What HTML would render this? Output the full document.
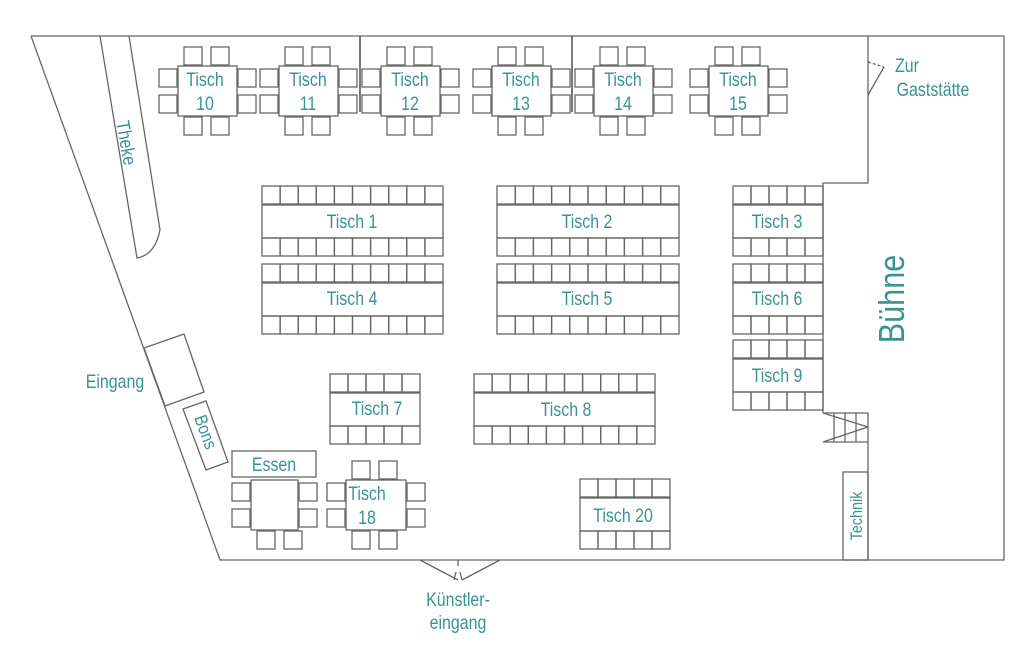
<!DOCTYPE html>
<html><head><meta charset="utf-8"><style>
html,body{margin:0;padding:0;background:#fff;}
svg{display:block}
text{font-family:"Liberation Sans Narrow","Liberation Sans",sans-serif;fill:#3a9393;}
.n text{transform-box:fill-box;transform-origin:center;transform:scaleX(.84);}
</style></head><body>
<svg id="s" width="1024" height="656" viewBox="0 0 1024 656" xmlns="http://www.w3.org/2000/svg">
<g id="g" fill="none" stroke="#666" stroke-width="1.3">
<polyline points="31,36 1004,36 1004,560 220,560 31,36"/>
<polyline points="868,36 868,183 823,183 823,413"/>
<polyline points="823,413 868,413 868,560"/>
<line x1="823" y1="442" x2="868" y2="442"/>
<line x1="823" y1="442" x2="868" y2="427"/><line x1="823" y1="413" x2="868" y2="427"/>
<line x1="834" y1="413" x2="834" y2="442"/><line x1="845" y1="413" x2="845" y2="442"/><line x1="856" y1="413" x2="856" y2="442"/>
<rect x="843" y="472" width="25" height="88"/>
<line x1="360" y1="36" x2="360" y2="112" stroke="#333"/>
<line x1="572" y1="36" x2="572" y2="112" stroke="#333"/>
<path d="M100,36 L137,258 Q155,255 160,230 L129,36"/>
<polygon points="144,348 184,334 204,392 165,406"/>
<polygon points="183,409 206,401 228,462 206,470"/>
<rect x="232" y="451" width="84" height="26"/>
<line x1="868" y1="62" x2="884" y2="67" stroke-dasharray="3,2"/>
<line x1="868" y1="95" x2="884" y2="67"/>
<polyline points="420,560 458,580"/><polyline points="500,560 462,580"/>
<line x1="458" y1="560" x2="458" y2="566"/>
<line x1="456" y1="572" x2="454" y2="580"/><line x1="460" y1="572" x2="462" y2="580"/>
</g>
<g font-size="19" text-anchor="middle" class="n">
<text x="205" y="86">Tisch</text><text x="205" y="110">10</text>
<text x="308" y="86">Tisch</text><text x="308" y="110">11</text>
<text x="410" y="86">Tisch</text><text x="410" y="110">12</text>
<text x="521" y="86">Tisch</text><text x="521" y="110">13</text>
<text x="623" y="86">Tisch</text><text x="623" y="110">14</text>
<text x="738" y="86">Tisch</text><text x="738" y="110">15</text>
<text x="352" y="228">Tisch 1</text>
<text x="587" y="228">Tisch 2</text>
<text x="777" y="228">Tisch 3</text>
<text x="352" y="305">Tisch 4</text>
<text x="587" y="305">Tisch 5</text>
<text x="777" y="305">Tisch 6</text>
<text x="777" y="382">Tisch 9</text>
<text x="377" y="415">Tisch 7</text>
<text x="566" y="416">Tisch 8</text>
<text x="623" y="522">Tisch 20</text>
<text x="367" y="500">Tisch</text><text x="367" y="524">18</text>
<text x="274" y="471">Essen</text>
<text x="115" y="388">Eingang</text>
<text x="458" y="606">Künstler-</text>
<text x="458" y="629">eingang</text>
<text x="907" y="72">Zur</text>
<text x="933" y="96">Gaststätte</text>
</g>
<g font-size="19" text-anchor="middle">
<text transform="translate(120,144) rotate(80) scale(.85,1)">Theke</text>
<text transform="translate(200,434) rotate(70) scale(.85,1)" font-size="18">Bons</text>
<text transform="translate(862,516) rotate(-90) scale(.85,1)" font-size="17">Technik</text>
<text transform="translate(904,299) rotate(-90) scale(.85,1)" font-size="36">Bühne</text>
</g>
</svg>
<script>
var g=document.getElementById('g');
function r(x,y,w,h){var e=document.createElementNS('http://www.w3.org/2000/svg','rect');e.setAttribute('x',x);e.setAttribute('y',y);e.setAttribute('width',w);e.setAttribute('height',h);g.appendChild(e);}
function small(x,y,w,h,top){w=w||59;h=h||50;r(x,y,w,h);
 if(top!==false){r(x+6,y-19,18,18);r(x+33,y-19,18,18);}
 r(x+6,y+h+1,18,18);r(x+33,y+h+1,18,18);
 r(x-19,y+3,18,18);r(x-19,y+29,18,18);r(x+w+1,y+3,18,18);r(x+w+1,y+29,18,18);}
[178,279,381,492,594,709].forEach(function(x){small(x,66);});
small(251,480,47,50,false);
small(346,480,60,50,true);
function long(x,y,n,w){var cw=w/n;r(x,y+19,w,33);for(var i=0;i<n;i++){r(x+i*cw,y,cw,18);r(x+i*cw,y+52,cw,18);}}
long(262,186,10,181);long(497,186,10,182);long(733,186,5,90);
long(262,264,10,181);long(497,264,10,182);long(733,264,5,90);
long(733,340,5,90);
long(330,374,5,90);long(474,374,10,181);long(580,479,5,90);
</script>
</body></html>
